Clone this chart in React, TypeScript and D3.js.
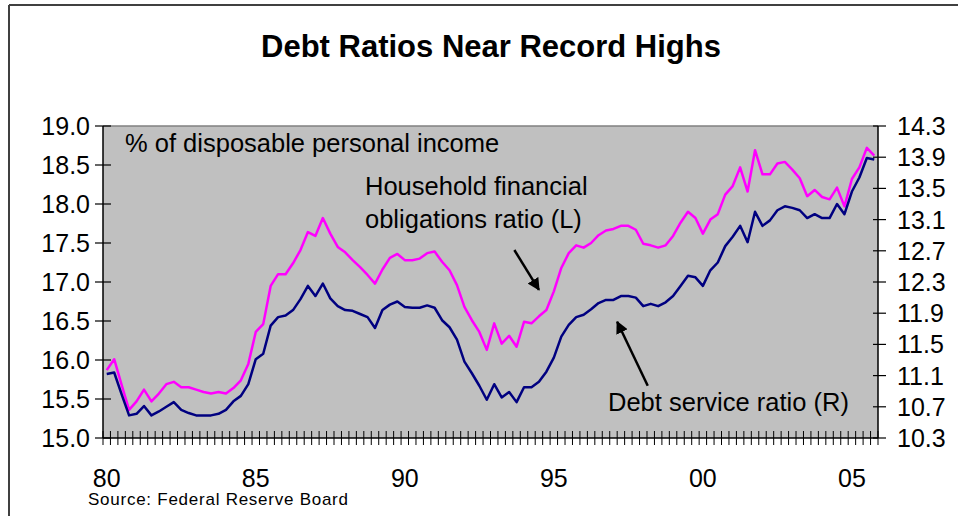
import React from "react";
import * as d3 from "d3";

const years = [1980,1981,1982,1983,1984,1985,1986,1987,1988,1989,1990,1991,1992,1993,1994,1995,1996,1997,1998,1999,2000,2001,2002,2003,2004,2005];
const quarters = ["Q1","Q2","Q3","Q4"];
const categories = years.flatMap((y) => quarters.map((q) => `${y}${q}`));

const xTickLabels = [
  { cat: "1980Q1", label: "80" },
  { cat: "1985Q1", label: "85" },
  { cat: "1990Q1", label: "90" },
  { cat: "1995Q1", label: "95" },
  { cat: "2000Q1", label: "00" },
  { cat: "2005Q1", label: "05" },
];
const leftTicks = [15.0, 15.5, 16.0, 16.5, 17.0, 17.5, 18.0, 18.5, 19.0];
const rightTicks = [10.3, 10.7, 11.1, 11.5, 11.9, 12.3, 12.7, 13.1, 13.5, 13.9, 14.3];

// Household financial obligations ratio (left axis)
const fobValues = [
  15.87, 16.01, 15.68, 15.36, 15.47, 15.62, 15.47, 15.57, 15.69, 15.72,
  15.65, 15.65, 15.62, 15.59, 15.57, 15.59, 15.57, 15.64, 15.74, 15.95,
  16.36, 16.46, 16.95, 17.10, 17.10, 17.24, 17.41, 17.64, 17.59, 17.82,
  17.62, 17.45, 17.38, 17.28, 17.19, 17.09, 16.98, 17.16, 17.31, 17.36,
  17.28, 17.28, 17.30, 17.37, 17.39, 17.26, 17.15, 16.96, 16.68, 16.51,
  16.36, 16.13, 16.47, 16.21, 16.31, 16.17, 16.49, 16.47, 16.56, 16.64,
  16.88, 17.18, 17.37, 17.47, 17.44, 17.50, 17.60, 17.66, 17.68, 17.72,
  17.72, 17.67, 17.49, 17.47, 17.44, 17.47, 17.59, 17.76, 17.90, 17.82,
  17.62, 17.80, 17.87, 18.12, 18.23, 18.47, 18.16, 18.69, 18.38, 18.38,
  18.52, 18.54, 18.44, 18.33, 18.10, 18.18, 18.09, 18.06, 18.21, 17.97,
  18.32, 18.47, 18.72, 18.62,
];

// Debt service ratio (right axis)
const dsrValues = [
  11.12, 11.14, 10.86, 10.59, 10.61, 10.71, 10.59, 10.64, 10.70, 10.76,
  10.66, 10.62, 10.59, 10.59, 10.59, 10.61, 10.66, 10.77, 10.84, 10.99,
  11.31, 11.38, 11.74, 11.85, 11.87, 11.94, 12.08, 12.25, 12.12, 12.28,
  12.09, 11.99, 11.94, 11.93, 11.89, 11.85, 11.71, 11.94, 12.01, 12.05,
  11.98, 11.97, 11.97, 12.00, 11.97, 11.81, 11.72, 11.56, 11.28, 11.13,
  10.97, 10.79, 10.99, 10.82, 10.89, 10.76, 10.95, 10.95, 11.02, 11.15,
  11.33, 11.60, 11.75, 11.85, 11.88, 11.95, 12.03, 12.07, 12.07, 12.12,
  12.12, 12.10, 11.99, 12.02, 11.99, 12.04, 12.12, 12.25, 12.38, 12.36,
  12.25, 12.45, 12.55, 12.76, 12.88, 13.02, 12.81, 13.20, 13.02, 13.09,
  13.22, 13.27, 13.25, 13.22, 13.12, 13.17, 13.12, 13.12, 13.30, 13.17,
  13.46, 13.64, 13.89, 13.87,
];

const W = 958;
const H = 516;
const plot = { left: 103, right: 878, top: 126, bottom: 438 };
const FONT = "'Liberation Sans', Arial, sans-serif";

export default function App() {
  const x = d3.scaleBand<string>().domain(categories).range([plot.left, plot.right]).padding(0);
  const yL = d3.scaleLinear().domain([15, 19]).range([plot.bottom, plot.top]);
  const yR = d3.scaleLinear().domain([10.3, 14.3]).range([plot.bottom, plot.top]);
  const cx = (c: string) => (x(c) as number) + x.bandwidth() / 2;
  const xi = (i: number) => plot.left + x.bandwidth() * (i + 0.5);

  const lineL = d3.line<number>().x((_, i) => cx(categories[i])).y((d) => yL(d));
  const lineR = d3.line<number>().x((_, i) => cx(categories[i])).y((d) => yR(d));

  const boundaries = categories.map((c) => x(c) as number).concat([plot.right]);

  // annotation arrows in data space (category index, value)
  const arrow1 = { from: [xi(54.7), yL(17.41)], to: [xi(58.0), yL(16.9)] };
  const arrow2 = { from: [xi(72.6), yR(10.97)], to: [xi(68.5), yR(11.79)] };

  const tick = 7;

  return (
    <svg width={W} height={H} style={{ position: "absolute", left: 0, top: 0, background: "#fff" }}>
      <defs>
        <marker id="ah" viewBox="0 0 10 10" refX="9" refY="5" markerWidth="5" markerHeight="5" orient="auto">
          <path d="M0,0 L10,5 L0,10 z" fill="#000" />
        </marker>
      </defs>
      {/* frame */}
      <line x1={9} y1={5} x2={W} y2={5} stroke="#404040" strokeWidth={2} />
      <line x1={9} y1={5} x2={9} y2={H} stroke="#404040" strokeWidth={2} />

      <text x={491} y={57} textAnchor="middle" fontFamily={FONT} fontWeight="bold" fontSize={31}>
        Debt Ratios Near Record Highs
      </text>

      {/* plot area */}
      <rect x={plot.left} y={plot.top} width={plot.right - plot.left} height={plot.bottom - plot.top} fill="#C0C0C0" />
      <line x1={plot.left} y1={plot.top} x2={plot.right} y2={plot.top} stroke="#808080" strokeWidth={1.5} />

      <text x={125} y={152} fontFamily={FONT} fontSize={25.5}>% of disposable personal income</text>
      <text x={365} y={195} fontFamily={FONT} fontSize={25.5}>Household financial</text>
      <text x={365} y={228} fontFamily={FONT} fontSize={25.5}>obligations ratio (L)</text>
      <text x={608} y={411} fontFamily={FONT} fontSize={25.5}>Debt service ratio (R)</text>

      <line x1={arrow1.from[0]} y1={arrow1.from[1]} x2={arrow1.to[0]} y2={arrow1.to[1]} stroke="#000" strokeWidth={2.5} markerEnd="url(#ah)" />
      <line x1={arrow2.from[0]} y1={arrow2.from[1]} x2={arrow2.to[0]} y2={arrow2.to[1]} stroke="#000" strokeWidth={2.5} markerEnd="url(#ah)" />

      {/* series */}
      <path d={lineL(fobValues) || ""} fill="none" stroke="#FF00FF" strokeWidth={2.5} strokeLinejoin="round" />
      <path d={lineR(dsrValues) || ""} fill="none" stroke="#000080" strokeWidth={2.5} strokeLinejoin="round" />

      {/* left axis */}
      <line x1={plot.left} y1={plot.top} x2={plot.left} y2={plot.bottom} stroke="#000" strokeWidth={1.5} />
      {leftTicks.map((t) => (
        <g key={"l" + t}>
          <line x1={plot.left - 8} x2={plot.left + 8} y1={yL(t)} y2={yL(t)} stroke="#000" strokeWidth={1.2} />
          <text x={90} y={yL(t)} dy="0.36em" textAnchor="end" fontFamily={FONT} fontSize={25}>
            {t.toFixed(1)}
          </text>
        </g>
      ))}

      {/* right axis */}
      <line x1={plot.right} y1={plot.top} x2={plot.right} y2={plot.bottom} stroke="#000" strokeWidth={1.5} />
      {rightTicks.map((t) => (
        <g key={"r" + t}>
          <line x1={plot.right - 5} x2={plot.right + 8} y1={yR(t)} y2={yR(t)} stroke="#000" strokeWidth={1.2} />
          <text x={897} y={yR(t)} dy="0.36em" textAnchor="start" fontFamily={FONT} fontSize={25}>
            {t.toFixed(1)}
          </text>
        </g>
      ))}

      {/* bottom axis */}
      <line x1={plot.left} y1={plot.bottom} x2={plot.right} y2={plot.bottom} stroke="#000" strokeWidth={1.5} />
      {boundaries.map((b, i) => (
        <line key={"b" + i} x1={b} x2={b} y1={plot.bottom - tick} y2={plot.bottom + tick} stroke="#000" strokeWidth={1} />
      ))}
      {xTickLabels.map((d) => (
        <text key={d.label} x={cx(d.cat)} y={487} textAnchor="middle" fontFamily={FONT} fontSize={25}>
          {d.label}
        </text>
      ))}

      <text x={88} y={505} fontFamily={FONT} fontSize={17} textLength={260} lengthAdjust="spacing">
        Source: Federal Reserve Board
      </text>
    </svg>
  );
}
